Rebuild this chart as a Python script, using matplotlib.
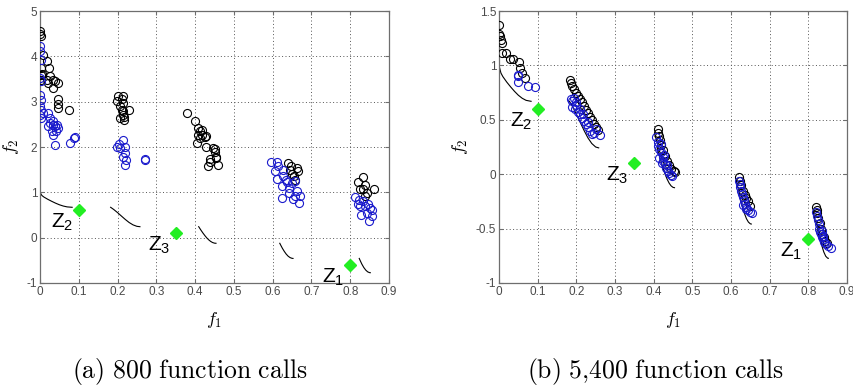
import matplotlib
matplotlib.use("Agg")
import matplotlib.pyplot as plt
from matplotlib.ticker import MultipleLocator

plt.rcParams['font.family'] = ['Liberation Sans', 'DejaVu Sans']
plt.rcParams['mathtext.fontset'] = 'cm'

# Pareto front segments (f1, f2)
front_f1 = [
    [0.0, 0.005, 0.01, 0.02, 0.03, 0.04, 0.05, 0.06, 0.07, 0.083],
    [0.1822, 0.19, 0.20, 0.21, 0.22, 0.23, 0.24, 0.25, 0.2578],
    [0.4093, 0.415, 0.42, 0.425, 0.43, 0.435, 0.44, 0.445, 0.45, 0.4539],
    [0.6184, 0.62, 0.625, 0.63, 0.635, 0.64, 0.645, 0.65, 0.6525],
    [0.8233, 0.825, 0.83, 0.835, 0.84, 0.845, 0.85, 0.8518],
]
front_f2 = [
    [1.0, 0.93, 0.897, 0.847, 0.803, 0.762, 0.726, 0.698, 0.679, 0.670],
    [0.670, 0.623, 0.553, 0.477, 0.402, 0.334, 0.282, 0.250, 0.242],
    [0.242, 0.167, 0.105, 0.048, -0.004, -0.047, -0.082, -0.107, -0.121, -0.124],
    [-0.124, -0.152, -0.233, -0.303, -0.363, -0.409, -0.440, -0.456, -0.458],
    [-0.458, -0.492, -0.583, -0.658, -0.715, -0.754, -0.772, -0.773],
]

# reference points
ref_f1 = [0.8, 0.1, 0.35]
ref_f2 = [-0.6, 0.6, 0.1]
ref_names = ['$\\mathregular{Z_1}$', '$\\mathregular{Z_2}$', '$\\mathregular{Z_3}$']

# (a) 800 function calls
a_black_f1 = [0.0, 0.001, 0.002, 0.008, 0.017, 0.024, 0.003, 0.004, 0.026, 0.034, 0.017,
              0.021, 0.039, 0.033, 0.047, 0.047, 0.047, 0.046, 0.076, 0.002, 0.002,
              0.202, 0.198, 0.211, 0.206, 0.215, 0.211, 0.215, 0.206, 0.217, 0.230, 0.215,
              0.213, 0.217,
              0.380, 0.400, 0.407, 0.413, 0.408, 0.417, 0.428, 0.413, 0.404, 0.428, 0.447,
              0.451, 0.455, 0.438, 0.434, 0.438, 0.460, 0.455, 0.451, 0.425, 0.417,
              0.640, 0.646, 0.666, 0.651, 0.657, 0.664, 0.648, 0.655,
              0.832, 0.821, 0.838, 0.825, 0.834, 0.843, 0.861, 0.838]
a_black_f2 = [4.57, 4.50, 4.45, 4.04, 3.90, 3.74, 3.74, 3.60, 3.56, 3.48, 3.48,
              3.41, 3.45, 3.30, 3.41, 3.05, 2.95, 2.85, 2.82, 3.48, 3.59,
              3.12, 3.01, 3.05, 2.90, 2.97, 2.82, 2.71, 2.64, 2.60, 2.82, 3.12,
              2.79, 2.67,
              2.75, 2.57, 2.42, 2.35, 2.27, 2.27, 2.25, 2.20, 2.09, 2.01, 1.98,
              1.90, 1.79, 1.74, 1.57, 1.66, 1.61, 1.76, 1.96, 2.23, 2.38,
              1.65, 1.50, 1.48, 1.40, 1.28, 1.53, 1.58, 1.35,
              1.34, 1.22, 1.17, 1.08, 1.07, 0.99, 1.07, 0.91]
a_blue_f1 = [0.001, 0.001, 0.003, 0.001, 0.003, 0.001, 0.003, 0.001, 0.003, 0.001, 0.003,
             0.008, 0.021, 0.026, 0.026, 0.021, 0.034, 0.034, 0.039, 0.045, 0.030,
             0.041, 0.047, 0.034, 0.039, 0.077, 0.088, 0.091,
             0.198, 0.204, 0.206, 0.215, 0.219, 0.219, 0.215, 0.222, 0.219, 0.272, 0.272,
             0.595, 0.612, 0.614, 0.626, 0.612, 0.627, 0.638, 0.649, 0.657, 0.623,
             0.643, 0.662, 0.670, 0.657, 0.669, 0.623, 0.641, 0.653, 0.635, 0.606,
             0.812, 0.823, 0.821, 0.834, 0.838, 0.847, 0.851, 0.857, 0.829, 0.843,
             0.849, 0.855, 0.825]
a_blue_f2 = [4.22, 4.11, 3.93, 3.52, 3.45, 3.15, 3.04, 2.90, 2.82, 2.71, 2.64,
             2.75, 2.75, 2.64, 2.53, 2.46, 2.49, 2.57, 2.46, 2.49, 2.35,
             2.35, 2.42, 2.27, 2.05, 2.09, 2.20, 2.22,
             2.01, 2.07, 1.98, 2.16, 2.01, 1.86, 1.79, 1.72, 1.61, 1.74, 1.71,
             1.66, 1.68, 1.57, 1.50, 1.29, 1.37, 1.22, 1.20, 1.24, 1.13,
             1.09, 1.02, 0.92, 0.92, 0.77, 0.88, 0.99, 0.85, 1.28, 1.47,
             0.90, 0.84, 0.75, 0.80, 0.69, 0.75, 0.66, 0.61, 0.51, 0.55,
             0.36, 0.48, 0.70]

# (b) 5,400 function calls
b_black_f1 = [0.0, 0.0, 0.003, 0.005, 0.007, 0.007, 0.019, 0.028, 0.037, 0.052, 0.054,
              0.059, 0.067,
              0.183, 0.185, 0.19, 0.195, 0.20, 0.205, 0.21, 0.215, 0.22, 0.225, 0.23,
              0.235, 0.24, 0.245, 0.25, 0.255,
              0.41, 0.411, 0.413, 0.417, 0.42, 0.425, 0.43, 0.435, 0.44, 0.445, 0.452, 0.455,
              0.620, 0.622, 0.625, 0.63, 0.635, 0.64, 0.645, 0.648,
              0.821, 0.822, 0.823, 0.826, 0.83, 0.833, 0.836, 0.84, 0.843, 0.847]
b_black_f2 = [1.37, 1.29, 1.27, 1.23, 1.21, 1.11, 1.11, 1.06, 1.06, 1.03, 0.98,
              0.93, 0.88,
              0.87, 0.84, 0.81, 0.78, 0.75, 0.72, 0.69, 0.66, 0.63, 0.59, 0.56,
              0.53, 0.50, 0.46, 0.43, 0.41,
              0.42, 0.38, 0.35, 0.31, 0.27, 0.22, 0.17, 0.12, 0.08, 0.05, 0.03, 0.02,
              -0.03, -0.06, -0.10, -0.15, -0.19, -0.22, -0.25, -0.29,
              -0.30, -0.33, -0.36, -0.40, -0.45, -0.50, -0.55, -0.58, -0.61, -0.63]
b_blue_f1 = [0.048, 0.050, 0.050, 0.074, 0.093,
             0.185, 0.19, 0.195, 0.19, 0.197, 0.20, 0.205, 0.21, 0.215, 0.20, 0.21,
             0.22, 0.225, 0.23, 0.235, 0.24, 0.245, 0.25, 0.262, 0.23, 0.218,
             0.407, 0.41, 0.412, 0.415, 0.418, 0.42, 0.423, 0.425, 0.428, 0.43, 0.433,
             0.437, 0.44, 0.445, 0.448, 0.415, 0.422, 0.435,
             0.620, 0.622, 0.624, 0.626, 0.628, 0.63, 0.633, 0.636, 0.64, 0.645, 0.65,
             0.655, 0.638, 0.632,
             0.821, 0.823, 0.825, 0.827, 0.828, 0.83, 0.833, 0.835, 0.837, 0.84, 0.845,
             0.85, 0.858, 0.835, 0.838]
b_blue_f2 = [0.91, 0.90, 0.85, 0.81, 0.80,
             0.69, 0.67, 0.70, 0.62, 0.60, 0.64, 0.57, 0.55, 0.52, 0.66, 0.60,
             0.49, 0.46, 0.43, 0.40, 0.37, 0.38, 0.42, 0.36, 0.48, 0.55,
             0.34, 0.30, 0.26, 0.23, 0.28, 0.20, 0.16, 0.12, 0.18, 0.09, 0.06,
             0.03, 0.01, -0.01, -0.02, 0.15, 0.10, 0.08,
             -0.06, -0.09, -0.12, -0.15, -0.18, -0.21, -0.24, -0.27, -0.30, -0.33, -0.35,
             -0.36, -0.32, -0.28,
             -0.35, -0.38, -0.42, -0.46, -0.50, -0.53, -0.55, -0.58, -0.60, -0.62, -0.64,
             -0.66, -0.68, -0.52, -0.57]

panels = [
    dict(black=(a_black_f1, a_black_f2), blue=(a_blue_f1, a_blue_f2),
         ylim=(-1, 5), ystep=1, caption='$\\mathrm{(a)\\ 800\\ function\\ calls}$'),
    dict(black=(b_black_f1, b_black_f2), blue=(b_blue_f1, b_blue_f2),
         ylim=(-1, 1.5), ystep=0.5, caption='$\\mathrm{(b)\\ 5{,}400\\ function\\ calls}$'),
]

fig = plt.figure(figsize=(8.54, 3.89), dpi=100)
positions = [[0.0468, 0.2725, 0.4087, 0.6992], [0.5843, 0.2725, 0.4075, 0.6992]]
caption_x = [190 / 854, 655 / 854]
axis_grey = '#6e6e6e'
label_grey = '#4a4a4a'

for pos, cx, p in zip(positions, caption_x, panels):
    ax = fig.add_axes(pos)
    for xs, ys in zip(front_f1, front_f2):
        ax.plot(xs, ys, color='black', lw=0.8, zorder=2)
    ax.plot(*p['black'], linestyle='none', marker='o', markersize=5.8,
            markerfacecolor='none', markeredgecolor='black', markeredgewidth=0.8, zorder=3)
    ax.plot(*p['blue'], linestyle='none', marker='o', markersize=5.8,
            markerfacecolor='none', markeredgecolor='#1a1acc', markeredgewidth=0.8, zorder=4)
    ax.plot(ref_f1, ref_f2, linestyle='none', marker='D', markersize=6.5,
            color='#22ee22', markeredgecolor='#22ee22', zorder=5)
    for x, y, name in zip(ref_f1, ref_f2, ref_names):
        ax.annotate(name, (x, y), xytext=(-4, -1), textcoords='offset points',
                    ha='right', va='top', fontsize=15, color='black')

    ax.set_xlim(0, 0.9)
    ax.set_ylim(*p['ylim'])
    ax.xaxis.set_major_locator(MultipleLocator(0.1))
    ax.yaxis.set_major_locator(MultipleLocator(p['ystep']))
    ax.xaxis.set_major_formatter(plt.FuncFormatter(lambda v, _: f'{v:g}'))
    ax.yaxis.set_major_formatter(plt.FuncFormatter(lambda v, _: f'{v:g}'))
    ax.grid(True, linestyle=(0, (1, 2.5)), color='#555555', lw=0.7)
    ax.tick_params(direction='in', top=True, right=True, length=3,
                   labelsize=8.5, colors=axis_grey, labelcolor=label_grey, pad=2)
    for s in ax.spines.values():
        s.set_color(axis_grey)
        s.set_linewidth(0.9)
    ax.set_xlabel('$f_1$', fontsize=13, labelpad=9)
    ax.set_ylabel('$f_2$', fontsize=13, labelpad=4)
    fig.text(cx, 0.045, p['caption'], ha='center', va='center', fontsize=18.5)

fig.savefig('out.png', dpi=100)
